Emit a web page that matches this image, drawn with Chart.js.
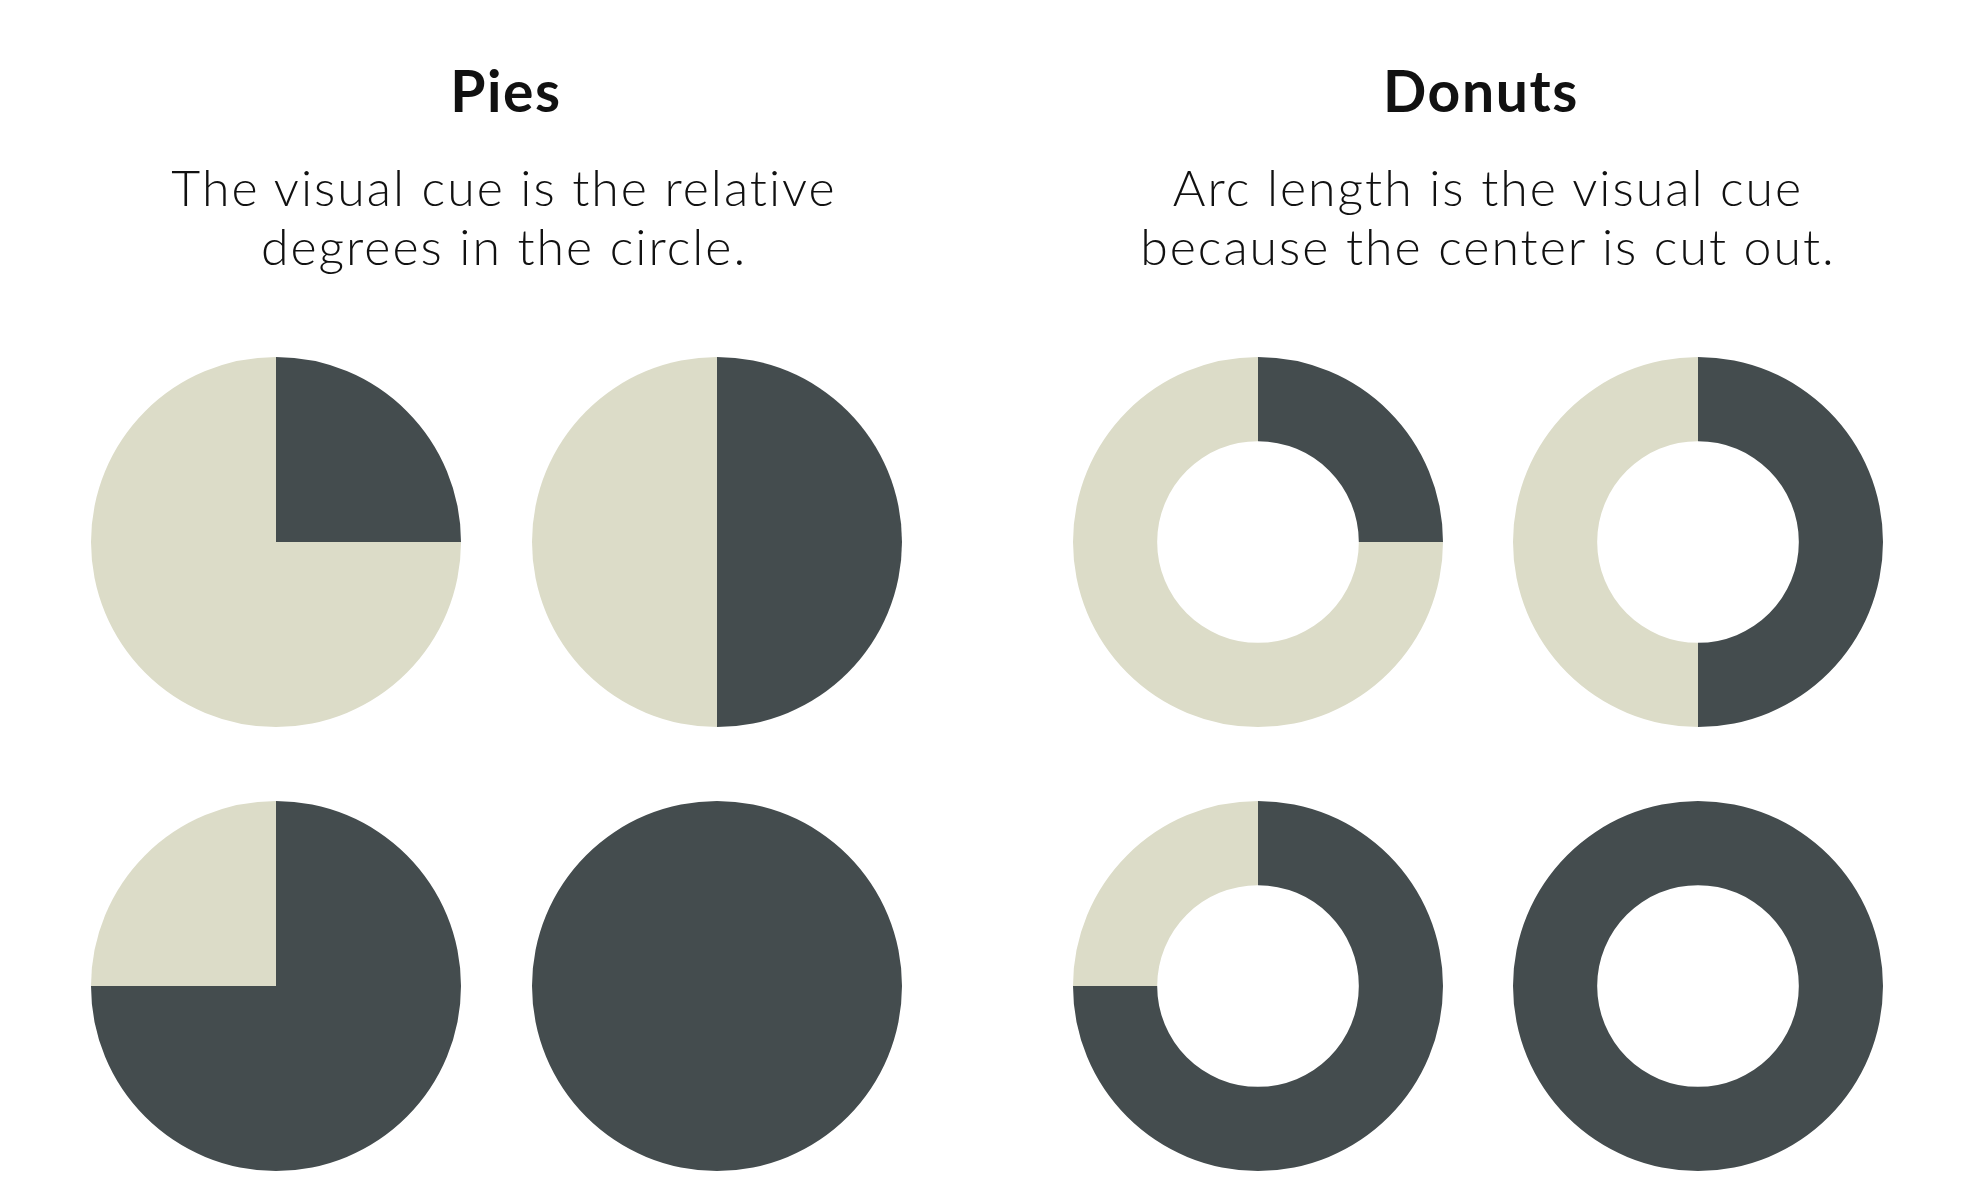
<!DOCTYPE html>
<html>
<head>
<meta charset="utf-8">
<script src="https://cdn.jsdelivr.net/npm/chart.js@4.4.1/dist/chart.umd.min.js"></script>
<style>
  html, body { margin: 0; padding: 0; background: #ffffff; }
  body { width: 1978px; height: 1200px; position: relative; overflow: hidden; }
  .box { position: absolute; width: 370px; height: 370px; }
  .title { position: absolute; width: 900px; text-align: center; color: #111111;
           font-family: "Lato", sans-serif; font-weight: 700; font-size: 57px; line-height: 57px;
           letter-spacing: 1.6px; }
  .sub { position: absolute; width: 900px; text-align: center; color: #111111;
         font-family: "Lato", sans-serif; font-weight: 300; font-size: 50px; line-height: 59px;
         letter-spacing: 2px; }
</style>
</head>
<body>
<div class="title" id="t1" style="left:56px; top:62px;">Pies</div>
<div class="title" id="t2" style="left:1031px; top:62px;">Donuts</div>
<div class="sub" id="s1" style="left:54px; top:158px;">The visual cue is the relative<br>degrees in the circle.</div>
<div class="sub" id="s2" style="left:1038px; top:158px;">Arc length is the visual cue<br>because the center is cut out.</div>
<script>
// Data
const sliceLabels = ["Share", "Remainder"];
const pieShares = [25, 50, 75, 100];          // dark slice, percent of circle (pies)
const pieRemainders = [75, 50, 25, 0];         // light slice
const donutShares = [25, 50, 75, 100];        // dark arc, percent of ring (donuts)
const donutRemainders = [75, 50, 25, 0];       // light arc

const darkColor = "#444c4e";
const lightColor = "#dcdcc8";

const centersX = { pie: [276, 717, 276, 717], donut: [1258, 1698, 1258, 1698] };
const centersY = [542, 542, 986, 986];
const R = 185;

function makeChart(kind, i, share, rest) {
  const div = document.createElement("div");
  div.className = "box";
  div.style.left = (centersX[kind][i] - R) + "px";
  div.style.top = (centersY[i] - R) + "px";
  const cv = document.createElement("canvas");
  div.appendChild(cv);
  document.body.appendChild(div);
  new Chart(cv, {
    type: kind === "pie" ? "pie" : "doughnut",
    data: {
      labels: sliceLabels,
      datasets: [{
        data: [share, rest],
        backgroundColor: [darkColor, lightColor],
        borderWidth: 0
      }]
    },
    options: {
      responsive: true,
      maintainAspectRatio: false,
      animation: false,
      cutout: kind === "pie" ? 0 : "54.5%",
      layout: { padding: 0 },
      plugins: { legend: { display: false }, tooltip: { enabled: false }, title: { display: false } }
    }
  });
}

for (let i = 0; i < 4; i++) {
  makeChart("pie", i, pieShares[i], pieRemainders[i]);
  makeChart("donut", i, donutShares[i], donutRemainders[i]);
}
</script>
</body>
</html>
